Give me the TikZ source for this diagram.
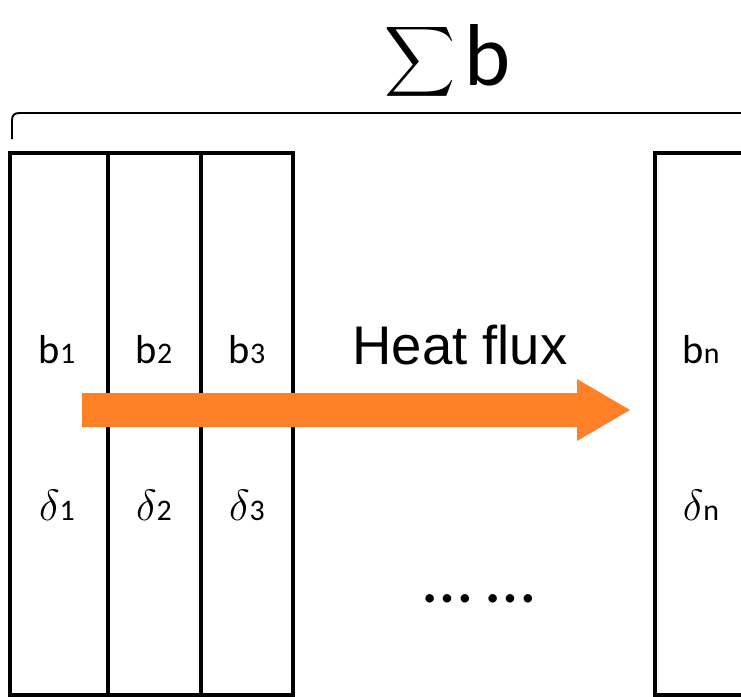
\documentclass[tikz,border=0pt]{standalone}
\usepackage{fontspec}
\usepackage{graphicx}
\setmainfont{Carlito}
\newfontfamily\arialfont{Liberation Sans}
\newcommand{\idx}[1]{{\fontsize{17}{17}\selectfont #1}}
\definecolor{fluxorange}{RGB}{255,128,39}
\tikzset{
  layer/.style={draw, line width=2pt},
  lbl/.style={inner sep=0pt, font=\fontsize{23}{23}\selectfont},
}
\begin{document}
\begin{tikzpicture}[x=0.02cm, y=-0.02cm]
    \useasboundingbox (0,0) rectangle (741,697);

    % Layers
    \draw[layer] (10,153) rectangle (108,695);
    \draw[layer] (108,153) rectangle (201,695);
    \draw[layer] (201,153) rectangle (293,695);
    \draw[layer] (745,153) -- (655,153) -- (655,695) -- (745,695);

    % Brace
    \draw[line width=1.1pt] (12,139) -- (12,121) .. controls (12,115) and (14,113) .. (20,113) -- (745,113);
    \node[inner sep=0pt] at (420,62) (sigma) {\scalebox{2.8}{$\displaystyle\sum$}};
    \node[inner sep=0pt, anchor=base west, font=\fontsize{50}{50}\selectfont] at (464,85) (sumb) {b};

    % Labels
    \node[lbl] at (57,350) (b1) {b\idx{1}};
    \node[lbl] at (154,350) (b2) {b\idx{2}};
    \node[lbl] at (247,350) (b3) {b\idx{3}};
    \node[lbl] at (701,350) (bn) {b\idx{n}};

    \node[lbl] at (57,505) (d1) {$\delta$\idx{1}};
    \node[lbl] at (154,505) (d2) {$\delta$\idx{2}};
    \node[lbl] at (247,505) (d3) {$\delta$\idx{3}};
    \node[lbl] at (701,505) (dn) {$\delta$\idx{n}};

    \node[inner sep=0pt, font=\arialfont\fontsize{31}{31}\selectfont] at (460,345) (flux) {Heat flux};
    \node[inner sep=0pt, anchor=base, font=\fontsize{40}{40}\selectfont] at (479,602) (dots) {…\hspace{8pt}…};

    % Heat flux arrow
    \coordinate (fluxstart) at (82,410);
    \coordinate (fluxtip) at (630,410);
    \fill[fluxorange] (82,393) -- (577,393) -- (577,379) -- (fluxtip) -- (577,441) -- (577,427) -- (82,427) -- cycle;
\end{tikzpicture}
\end{document}
